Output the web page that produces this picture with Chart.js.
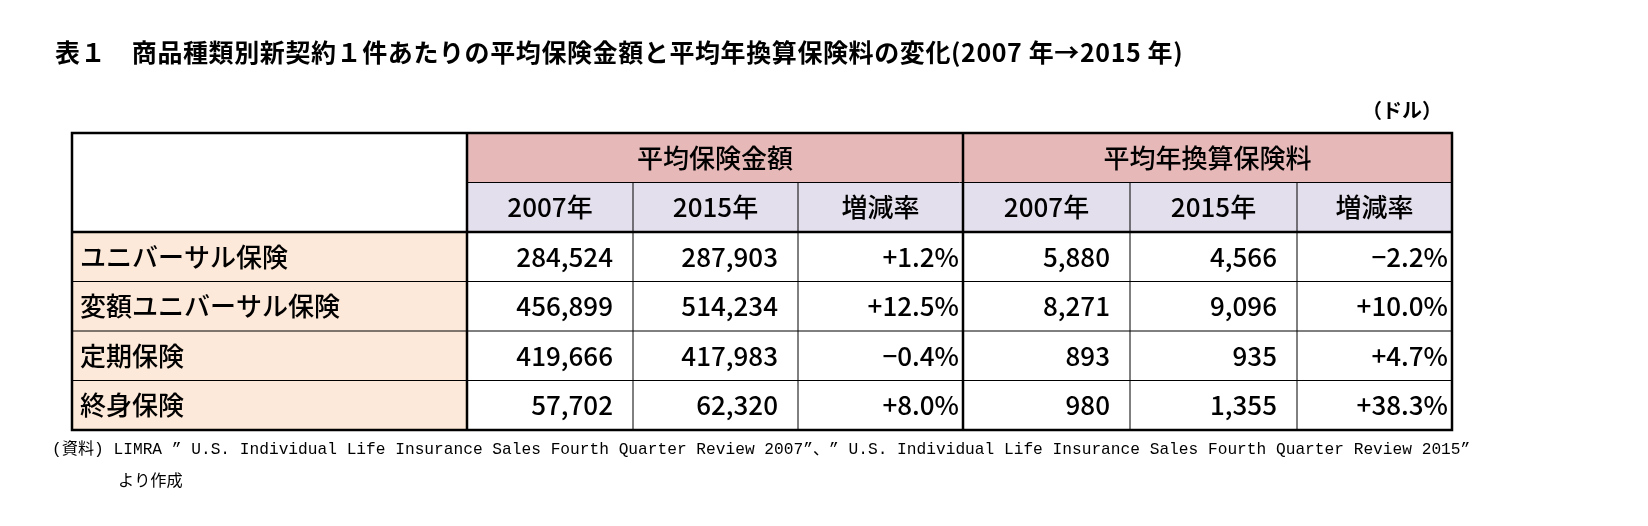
<!DOCTYPE html>
<html>
<head>
<meta charset="utf-8">
<script src="https://cdn.jsdelivr.net/npm/chart.js@4"></script>
<style>
  body { margin: 0; background: #fff; }
</style>
</head>
<body>
<canvas id="tbl" width="1648" height="526"></canvas>
<script>
const title = "表１　商品種類別新契約１件あたりの平均保険金額と平均年換算保険料の変化(2007 年→2015 年)";
const unitLabel = "（ドル）";
const groupHeaders = ["平均保険金額", "平均年換算保険料"];
const subHeaders = ["2007年", "2015年", "増減率", "2007年", "2015年", "増減率"];
const products = ["ユニバーサル保険", "変額ユニバーサル保険", "定期保険", "終身保険"];
const faceAmount2007 = [284524, 456899, 419666, 57702];
const faceAmount2015 = [287903, 514234, 417983, 62320];
const faceChange = [1.2, 12.5, -0.4, 8.0];
const premium2007 = [5880, 8271, 893, 980];
const premium2015 = [4566, 9096, 935, 1355];
const premiumChange = [-2.2, 10.0, 4.7, 38.3];
const sourceNote = ["(資料) LIMRA \u201d U.S. Individual Life Insurance Sales Fourth Quarter Review 2007\u201d、\u201d U.S. Individual Life Insurance Sales Fourth Quarter Review 2015\u201d", "より作成"];

// column edges in table units (x scale), rows are 1 unit each (y scale)
const colEdges = [0, 395, 561, 726, 891, 1058, 1225, 1380];

const fmtNum = v => v.toLocaleString("en-US");
const fmtPct = v => (v < 0 ? "\u2212" : "+") + Math.abs(v).toFixed(1) + "%";

const rows = products.map((p, i) => [
  p, fmtNum(faceAmount2007[i]), fmtNum(faceAmount2015[i]), fmtPct(faceChange[i]),
  fmtNum(premium2007[i]), fmtNum(premium2015[i]), fmtPct(premiumChange[i])
]);

const jp = '"Noto Sans CJK JP", "Noto Sans", sans-serif';

const tablePlugin = {
  id: "tablePlugin",
  afterDraw(chart) {
    const ctx = chart.ctx;
    const xs = chart.scales.x, ys = chart.scales.y;
    const X = v => xs.getPixelForValue(v);
    const Y = v => ys.getPixelForValue(v);
    ctx.save();

    // title + unit
    ctx.fillStyle = "#000";
    ctx.font = "bold 25px " + jp;
    ctx.letterSpacing = "0.6px";
    ctx.textBaseline = "middle";
    ctx.textAlign = "left";
    ctx.fillText(title, 55, 52);
    ctx.letterSpacing = "0px";
    ctx.font = "bold 20px " + jp;
    ctx.textAlign = "right";
    ctx.fillText(unitLabel, X(colEdges[7]) - 10, 110);

    // backgrounds
    const fill = (c0, c1, r0, r1, col) => {
      ctx.fillStyle = col;
      ctx.fillRect(X(colEdges[c0]), Y(r0), X(colEdges[c1]) - X(colEdges[c0]), Y(r1) - Y(r0));
    };
    fill(1, 7, 0, 1, "#e6b8b7");
    fill(1, 7, 1, 2, "#e4dfec");
    fill(0, 1, 2, 6, "#fde9d9");

    // grid lines
    const line = (x0, y0, x1, y1, w) => {
      ctx.lineWidth = w; ctx.strokeStyle = "#000";
      ctx.beginPath(); ctx.moveTo(x0, y0); ctx.lineTo(x1, y1); ctx.stroke();
    };
    const left = X(0), right = X(colEdges[7]), top = Y(0), bottom = Y(6);
    for (let r = 1; r < 6; r++) {
      const x0 = r === 1 ? X(colEdges[1]) : left;
      line(x0, Y(r), right, Y(r), r === 2 ? 2.5 : 1);
    }
    for (let c = 1; c < 7; c++) {
      const y0 = (c === 2 || c === 3 || c === 5 || c === 6) ? Y(1) : top;
      line(X(colEdges[c]), y0, X(colEdges[c]), bottom, (c === 1 || c === 4) ? 2.5 : 1);
    }
    ctx.lineWidth = 2.5;
    ctx.strokeRect(left, top, right - left, bottom - top);

    // header text
    ctx.fillStyle = "#000";
    ctx.font = "500 26px " + jp;
    ctx.textAlign = "center";
    groupHeaders.forEach((h, g) => {
      ctx.fillText(h, (X(colEdges[1 + g * 3]) + X(colEdges[4 + g * 3])) / 2, (Y(0) + Y(1)) / 2);
    });
    subHeaders.forEach((h, c) => {
      ctx.fillText(h, (X(colEdges[c + 1]) + X(colEdges[c + 2])) / 2, (Y(1) + Y(2)) / 2);
    });

    // body
    rows.forEach((row, r) => {
      const yc = (Y(r + 2) + Y(r + 3)) / 2;
      row.forEach((txt, c) => {
        if (c === 0) {
          ctx.textAlign = "left";
          ctx.fillText(txt, X(colEdges[0]) + 8, yc);
        } else {
          ctx.textAlign = "right";
          const pad = (c === 3 || c === 6) ? 4 : 20;
          ctx.fillText(txt, X(colEdges[c + 1]) - pad, yc);
        }
      });
    });

    // source note
    ctx.font = '16.2px "Liberation Mono", "Noto Sans CJK JP", monospace';
    ctx.textAlign = "left";
    ctx.fillText(sourceNote[0], 52, 450);
    ctx.fillText(sourceNote[1], 118, 482);
    ctx.restore();
  }
};

new Chart(document.getElementById("tbl"), {
  type: "bar",
  data: { labels: [], datasets: [{ data: [] }] },
  options: {
    responsive: false,
    animation: false,
    devicePixelRatio: 1,
    layout: { padding: { left: 72, top: 133, right: 196, bottom: 96 } },
    plugins: { legend: { display: false }, tooltip: { enabled: false } },
    scales: {
      x: { type: "linear", min: 0, max: colEdges[7], display: false, offset: false, grid: { offset: false } },
      y: { type: "linear", min: 0, max: 6, reverse: true, display: false }
    }
  },
  plugins: [tablePlugin]
});
</script>
</body>
</html>
